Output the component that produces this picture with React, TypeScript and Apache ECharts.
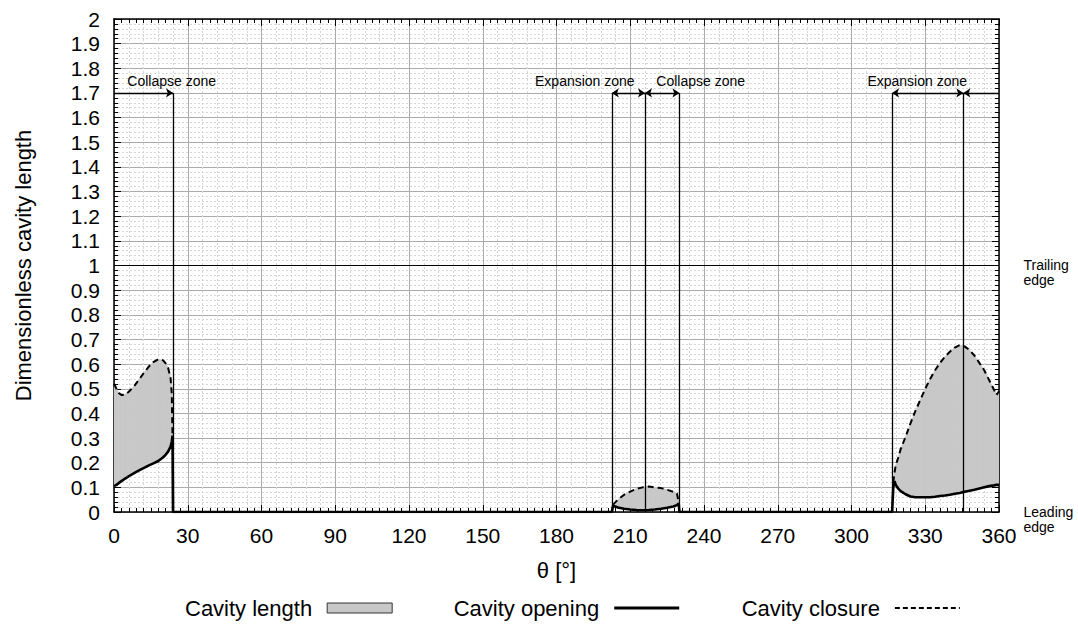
import React, { useEffect, useRef } from 'react';
import * as echarts from 'echarts';

// ---------- data ----------
const thetaDeg = [
  0, 1, 2, 3, 4, 5, 6, 8, 10, 12, 14, 16, 18, 20, 21, 22, 23, 23.5, 23.8, 24,
  202.5, 203, 205, 207.5, 210, 212.5, 215, 217.5, 220, 222.5, 225, 227.5, 229, 229.7, 230,
  316.5, 317, 317.5, 318, 319, 320, 322, 324, 326, 328, 330, 332, 334, 336, 338, 340, 342, 344,
  346, 348, 350, 352, 354, 356, 358, 359, 360,
];
const cavityOpening = [
  0.105, 0.11, 0.118, 0.125, 0.132, 0.138, 0.145, 0.157, 0.168, 0.178, 0.188, 0.197, 0.207, 0.222, 0.232, 0.245, 0.265, 0.285, 0.31, 0,
  0, 0.025, 0.018, 0.013, 0.01, 0.008, 0.007, 0.008, 0.01, 0.013, 0.017, 0.022, 0.028, 0.035, 0,
  0, 0.1, 0.125, 0.11, 0.095, 0.085, 0.072, 0.063, 0.06, 0.06, 0.06, 0.06, 0.062, 0.065, 0.067, 0.07, 0.074, 0.077,
  0.082, 0.086, 0.09, 0.095, 0.1, 0.105, 0.108, 0.11, 0.11,
];
const cavityClosure: (number | null)[] = [
  0.52, 0.5, 0.482, 0.475, 0.475, 0.48, 0.488, 0.508, 0.535, 0.562, 0.588, 0.608, 0.62, 0.615, 0.603, 0.585, 0.545, 0.48, 0.31, null,
  null, 0.03, 0.05, 0.07, 0.083, 0.094, 0.1, 0.103, 0.1, 0.097, 0.09, 0.082, 0.075, 0.04, null,
  null, 0.12, 0.16, 0.19, 0.22, 0.255, 0.305, 0.36, 0.41, 0.455, 0.5, 0.54, 0.575, 0.605, 0.63, 0.65, 0.667, 0.677,
  0.672, 0.657, 0.635, 0.605, 0.575, 0.535, 0.495, 0.475, 0.49,
];

const zoneBoundaries = [24, 202.5, 216, 230, 316.5, 345.5];
const zoneArrowLevel = 1.7;
const zoneArrows = [
  { from: 0, to: 24, startArrow: false, endArrow: true },
  { from: 202.5, to: 216, startArrow: true, endArrow: true },
  { from: 216, to: 230, startArrow: true, endArrow: true },
  { from: 316.5, to: 345.5, startArrow: true, endArrow: true },
  { from: 345.5, to: 360, startArrow: true, endArrow: false },
];
const zoneLabels = [
  { text: 'Collapse zone', x: 5.2, side: 'right' },
  { text: 'Expansion zone', x: 212, side: 'left' },
  { text: 'Collapse zone', x: 220.4, side: 'right' },
  { text: 'Expansion zone', x: 347.2, side: 'left' },
];
const zoneLabelLevel = 1.75;
const trailingEdge = 1;
const leadingEdge = 0;

const seriesNames = ['Cavity length', 'Cavity opening', 'Cavity closure'];

const FONT = "'Liberation Sans', Arial, Helvetica, sans-serif";

export default function App() {
  const ref = useRef<HTMLDivElement>(null);

  useEffect(() => {
    if (!ref.current) return;
    const chart = echarts.init(ref.current, undefined, { renderer: 'svg' });

    const bandSegments: number[][] = [];
    for (let i = 0; i < thetaDeg.length - 1; i++) {
      const c0 = cavityClosure[i];
      const c1 = cavityClosure[i + 1];
      if (c0 != null && c1 != null) {
        bandSegments.push([thetaDeg[i], cavityOpening[i], c0, thetaDeg[i + 1], cavityOpening[i + 1], c1]);
      }
    }
    const openingData = thetaDeg.map((t, i) => [t, cavityOpening[i]]);
    const closureData = thetaDeg.map((t, i) => [t, cavityClosure[i] == null ? '-' : cavityClosure[i]]);

    const black = '#000';
    const commonX = { type: 'value', min: 0, max: 360, interval: 30, gridIndex: 0 };
    const commonY = { type: 'value', min: 0, max: 2, interval: 0.1, gridIndex: 0 };

    const option: any = {
      animation: false,
      grid: { left: 114, top: 19, width: 885, height: 493, containLabel: false },
      legend: {
        left: 185,
        top: 597,
        padding: 0,
        align: 'right',
        itemWidth: 65,
        itemHeight: 10,
        itemGap: 61,
        selectedMode: false,
        textStyle: { fontSize: 22, color: black, fontFamily: FONT, padding: [0, 10, 0, 0] },
        data: [
          { name: seriesNames[0], icon: 'rect', itemStyle: { color: '#c8c8c8', borderColor: '#333', borderWidth: 1 } },
          { name: seriesNames[1], itemStyle: { opacity: 0 }, lineStyle: { width: 3, color: black } },
          { name: seriesNames[2], itemStyle: { opacity: 0 }, lineStyle: { width: 2, color: black, type: [5, 3] } },
        ],
      },
      xAxis: [
        {
          // minor dotted grid only
          ...commonX,
          position: 'bottom',
          axisLine: { show: false },
          axisTick: { show: false },
          axisLabel: { show: false },
          splitLine: { show: false },
          minorTick: { show: false, splitNumber: 5 },
          minorSplitLine: { show: true, lineStyle: { color: '#d6d6d6', width: 1, type: [2, 2] } },
        },
        {
          ...commonX,
          position: 'bottom',
          axisLine: { show: true, onZero: false, lineStyle: { color: black, width: 1.5 } },
          axisTick: { show: true, inside: true, length: 7, lineStyle: { color: black, width: 1 } },
          minorTick: { show: true, splitNumber: 10, length: 4, lineStyle: { color: black, width: 1 } },
          axisLabel: { show: true, fontSize: 21, color: black, margin: 13, fontFamily: FONT },
          splitLine: { show: true, lineStyle: { color: '#ababab', width: 1 } },
          name: 'θ [°]',
          nameLocation: 'middle',
          nameGap: 47,
          nameTextStyle: { fontSize: 22, color: black, fontFamily: FONT },
        },
        {
          ...commonX,
          position: 'top',
          axisLine: { show: true, onZero: false, lineStyle: { color: black, width: 1.5 } },
          axisTick: { show: true, inside: true, length: 7, lineStyle: { color: black, width: 1 } },
          minorTick: { show: true, splitNumber: 10, length: 4, lineStyle: { color: black, width: 1 } },
          axisLabel: { show: false },
          splitLine: { show: false },
        },
      ],
      yAxis: [
        {
          ...commonY,
          position: 'left',
          axisLine: { show: true, onZero: false, lineStyle: { color: black, width: 1.5 } },
          axisTick: { show: true, inside: true, length: 7, lineStyle: { color: black, width: 1 } },
          minorTick: { show: true, splitNumber: 5, length: 4, lineStyle: { color: black, width: 1 } },
          axisLabel: { show: true, fontSize: 21, color: black, margin: 14, fontFamily: FONT },
          splitLine: { show: true, lineStyle: { color: '#ababab', width: 1 } },
          minorSplitLine: { show: true, lineStyle: { color: '#d6d6d6', width: 1, type: [2, 2] } },
          name: 'Dimensionless cavity length',
          nameLocation: 'middle',
          nameGap: 80,
          nameTextStyle: { fontSize: 22, color: black, fontFamily: FONT },
        },
        {
          ...commonY,
          position: 'right',
          axisLine: { show: true, onZero: false, lineStyle: { color: black, width: 1.5 } },
          axisTick: { show: true, inside: true, length: 7, lineStyle: { color: black, width: 1 } },
          minorTick: { show: true, splitNumber: 5, length: 4, lineStyle: { color: black, width: 1 } },
          axisLabel: { show: false },
          splitLine: { show: false },
        },
      ],
      series: [
        {
          type: 'custom',
          name: seriesNames[0],
          xAxisIndex: 1,
          yAxisIndex: 0,
          silent: true,
          clip: true,
          z: 2,
          itemStyle: { color: '#c8c8c8' },
          data: bandSegments,
          encode: { x: [0, 3], y: [1, 2, 4, 5] },
          renderItem: (_params: any, api: any) => {
            const a = api.coord([api.value(0), api.value(1)]);
            const b = api.coord([api.value(3), api.value(4)]);
            const c = api.coord([api.value(3), api.value(5)]);
            const d = api.coord([api.value(0), api.value(2)]);
            return {
              type: 'polygon',
              shape: { points: [a, b, c, d] },
              style: { fill: '#c8c8c8', stroke: '#c8c8c8', lineWidth: 0.8 },
            };
          },
        },
        {
          type: 'line',
          name: seriesNames[2],
          xAxisIndex: 1,
          yAxisIndex: 0,
          data: closureData,
          symbol: 'none',
          connectNulls: false,
          silent: true,
          z: 4,
          lineStyle: { color: black, width: 2, type: [6, 4] },
          itemStyle: { color: black },
        },
        {
          type: 'line',
          name: seriesNames[1],
          xAxisIndex: 1,
          yAxisIndex: 0,
          data: openingData,
          symbol: 'none',
          silent: true,
          z: 5,
          lineStyle: { color: black, width: 2.6 },
          itemStyle: { color: black },
        },
        {
          type: 'line',
          name: 'zones',
          xAxisIndex: 1,
          yAxisIndex: 0,
          data: [],
          silent: true,
          z: 6,
          markLine: {
            silent: true,
            animation: false,
            symbol: 'none',
            symbolSize: 7,
            label: { show: false },
            emphasis: { disabled: true },
            lineStyle: { color: black, width: 1.3, type: 'solid' },
            data: [
              { yAxis: trailingEdge, lineStyle: { width: 1.1 } },
              ...zoneBoundaries.map((x) => [{ coord: [x, 0] }, { coord: [x, zoneArrowLevel] }]),
              ...zoneArrows.map((a) => [
                { coord: [a.from, zoneArrowLevel], symbol: a.startArrow ? 'arrow' : 'none' },
                { coord: [a.to, zoneArrowLevel], symbol: a.endArrow ? 'arrow' : 'none' },
              ]),
            ],
          },
          markPoint: {
            silent: true,
            animation: false,
            symbol: 'rect',
            symbolSize: 1,
            itemStyle: { color: 'rgba(0,0,0,0)' },
            label: { show: true, color: black, fontSize: 14, fontFamily: FONT },
            data: [
              ...zoneLabels.map((l) => ({
                coord: [l.x, zoneLabelLevel],
                label: { show: true, formatter: l.text, position: l.side, distance: 0, fontSize: 14, color: black, fontFamily: FONT },
              })),
              {
                coord: [360, trailingEdge],
                label: { show: true, formatter: 'Trailing\nedge', position: 'right', distance: 24, offset: [0, 7], lineHeight: 15, fontSize: 14, color: black, fontFamily: FONT },
              },
              {
                coord: [360, leadingEdge],
                label: { show: true, formatter: 'Leading\nedge', position: 'right', distance: 24, offset: [0, 7], lineHeight: 15, fontSize: 14, color: black, fontFamily: FONT },
              },
            ],
          },
        },
      ],
    };

    chart.setOption(option);
    return () => {
      chart.dispose();
    };
  }, []);

  return (
    <div
      ref={ref}
      style={{ position: 'absolute', left: 0, top: 0, width: 1078, height: 624, background: '#fff' }}
    />
  );
}
